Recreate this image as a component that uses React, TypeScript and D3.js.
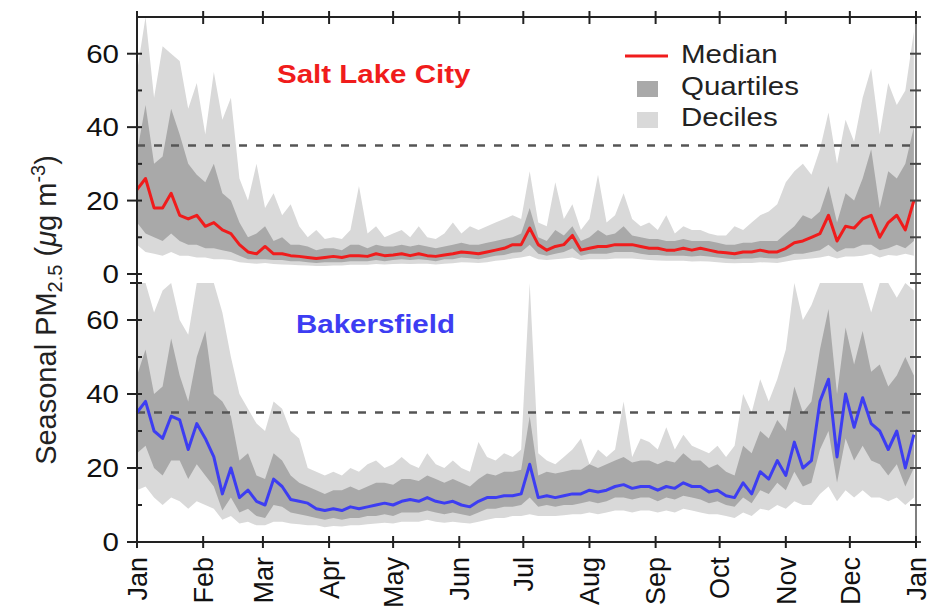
import React from 'react';
import * as d3 from 'd3';

// day-of-year grid (every 4 days)
const days: number[] = d3.range(0, 365, 4);

const monthDays = [0, 31, 59, 90, 120, 151, 181, 212, 243, 273, 304, 334, 365];
const monthLabels = ['Jan', 'Feb', 'Mar', 'Apr', 'May', 'Jun', 'Jul', 'Aug', 'Sep', 'Oct', 'Nov', 'Dec', 'Jan'];
const majorTicks = [0, 20, 40, 60];
const minorTicks = [10, 30, 50];
const standard = 35;

// Salt Lake City
const slcMed = [
  23, 26, 18, 18, 22, 16, 15, 16, 13, 14,
  12, 11, 8, 6, 5.5, 7.5, 5.5, 5.5, 5, 4.8,
  4.5, 4.2, 4.5, 4.8, 4.5, 5, 5, 4.8, 5.5, 5,
  5.2, 5.5, 5, 5.5, 5, 4.8, 5.2, 5.5, 6, 5.8,
  5.5, 6, 6.5, 7, 8, 8, 12.5, 8, 6.5, 7.5,
  8, 10.5, 6.5, 7, 7.5, 7.5, 8, 8, 8, 7.5,
  7, 7, 6.5, 6.5, 7, 6.5, 7, 6.5, 6, 5.8,
  5.5, 6, 6, 6.5, 6, 6, 7, 8.5, 9, 10,
  11, 16, 9, 13, 12.5, 15, 16, 10, 14, 16,
  12, 20,
];
const slcQ25 = [
  14, 11, 10, 9, 11, 9, 8, 8, 7, 7,
  6.5, 6, 5, 4, 4, 4, 3.8, 3.8, 3.5, 3.5,
  3.2, 3, 3.2, 3.2, 3.2, 3.5, 3.5, 3.5, 3.8, 3.5,
  3.8, 4, 3.8, 4, 3.8, 3.5, 4, 4, 4.5, 4.3,
  4, 4.5, 5, 5.2, 5.8, 6, 8, 5.5, 5, 5.5,
  6, 7, 5, 5.5, 5.5, 5.5, 6, 6, 6, 5.5,
  5.2, 5.2, 5, 5, 5, 4.8, 5, 4.8, 4.5, 4.2,
  4, 4.2, 4.2, 4.5, 4.3, 4.2, 4.8, 5.5, 5.5, 6,
  6.5, 8, 6, 7, 7, 8, 8, 6.5, 7, 8,
  7, 9,
];
const slcQ75 = [
  33, 46, 30, 32, 45, 38, 30, 27, 25, 30,
  22, 20, 14, 10, 11, 13, 9, 10, 8, 8,
  7.5, 6.5, 7, 7, 6.5, 8, 8, 7, 8, 7.5,
  7.5, 8, 7.5, 8, 7.5, 7, 7.5, 8, 8.5, 8,
  8, 8.5, 9, 9.5, 10, 11, 18, 10, 9, 12,
  10.5, 13, 9, 10, 12, 10.5, 11, 13, 10.5, 10,
  9.5, 9.5, 9, 9, 9.5, 9, 9, 9, 8.5, 8,
  8, 8.5, 8.5, 9, 9, 9, 11, 13, 16, 15,
  17, 24, 14, 22, 20, 26, 34, 18, 28, 26,
  30, 40,
];
const slcD10 = [
  8, 6, 5.5, 5, 6, 5, 5, 4.5, 4.5, 4,
  4, 3.8, 3.2, 3, 2.8, 3, 2.7, 2.6, 2.5, 2.4,
  2.3, 2.2, 2.2, 2.3, 2.3, 2.5, 2.5, 2.5, 2.7, 2.6,
  2.7, 2.8, 2.7, 2.8, 2.8, 2.6, 2.8, 2.9, 3.2, 3.1,
  3, 3.2, 3.6, 3.8, 4.2, 4.5, 5, 4, 3.8, 4,
  4.2, 4.5, 3.8, 4, 4, 4, 4.2, 4.2, 4.2, 4,
  3.8, 3.7, 3.6, 3.6, 3.6, 3.4, 3.5, 3.4, 3.2, 3,
  2.9, 3, 3, 3.2, 3.1, 3, 3.4, 3.8, 4, 4.2,
  4.5, 5, 4.2, 4.8, 4.8, 5, 5.5, 4.5, 5.2, 5,
  5.5, 5,
];
const slcD90 = [
  55, 70, 48, 62, 60, 58, 45, 52, 38, 55,
  42, 48, 26, 20, 30, 18, 22, 16, 19, 13,
  10, 12, 9.5, 10, 9.5, 12, 24, 11, 13, 10,
  11, 12, 10, 13, 10, 9.5, 11, 14, 11, 13,
  12, 13, 14, 15, 16, 15, 28, 14, 13, 25,
  15, 19, 12, 15, 27, 14, 16, 22, 15, 13,
  14, 12, 16, 11, 13, 12, 12, 11, 10.5, 10.5,
  13, 12, 14, 16, 17, 19, 25, 28, 30, 27,
  34, 44, 30, 42, 36, 48, 56, 38, 52, 46,
  50, 66,
];

// Bakersfield
const bakMed = [
  35, 38, 30, 28, 34, 33, 25, 32, 28, 23,
  13, 20, 12, 14, 11, 10, 17, 15, 11.5, 11,
  10.5, 9, 8.5, 9, 8.5, 9.5, 9, 9.5, 10, 10.5,
  10, 11, 11.5, 11, 12, 11, 10.5, 11, 10, 9.5,
  11, 12, 12, 12.5, 12.5, 13, 21, 12, 12.5, 12,
  12.5, 13, 13, 14, 13.5, 14, 15, 15.5, 14.5, 15,
  15, 14, 15, 14.5, 16, 15, 15, 13.5, 14, 12.5,
  12, 16, 13, 19, 17, 22, 18, 27, 20, 22,
  38, 44, 23, 40, 31, 39, 32, 30, 25, 30,
  20, 29,
];
const bakQ25 = [
  24, 26, 20, 18, 22, 22, 17, 21, 18, 15,
  8.5, 12, 8, 9, 7, 6.5, 10, 9.5, 8, 7.5,
  7, 6.5, 6, 6.5, 6, 6.5, 6.5, 7, 7, 7.5,
  7, 8, 8, 8, 8.5, 8, 7.5, 8, 7.5, 7,
  8, 9, 9, 9.5, 9.5, 10, 12, 9.5, 10, 9.5,
  10, 10, 10.5, 11, 10.5, 11, 12, 12, 11.5, 12,
  12, 11, 12, 11.5, 12.5, 12, 11.5, 10.5, 11, 10,
  9.5, 12, 10.5, 14, 13, 16, 14, 19, 15, 16,
  25, 30, 16, 28, 22, 26, 22, 21, 18, 21,
  15, 20,
];
const bakQ75 = [
  45, 52, 40, 42, 55, 45, 38, 50, 57, 40,
  38, 34, 22, 24, 18, 17, 24, 22, 18, 16,
  15, 14, 13, 14, 14, 15, 14, 15, 16, 16,
  15.5, 17, 17, 16.5, 18, 17, 16, 17, 16, 15,
  17, 18.5, 18, 19, 19, 19.5, 34, 18, 19, 18.5,
  19, 19.5, 19.5, 21, 20, 21, 22, 23, 21.5, 22,
  22, 21, 22, 21.5, 24, 22, 22, 20, 21, 19,
  18, 26, 24, 30, 28, 33, 30, 42, 35, 38,
  52, 63, 40, 58, 48, 57, 46, 48, 42, 45,
  50, 45,
];
const bakD10 = [
  14, 15, 12, 10, 12, 11, 9, 11, 10, 9,
  6, 7, 5, 5.5, 4.5, 4.5, 5.5, 5.5, 5, 4.8,
  4.5, 4.5, 4, 4.3, 4.2, 4.5, 4.5, 4.8, 5, 5.2,
  5, 5.5, 5.5, 5.5, 6, 5.5, 5.2, 5.5, 5.2, 5,
  5.5, 6, 6.5, 6.5, 7, 7, 7.5, 7, 7, 7,
  7.2, 7.5, 7.5, 8, 7.5, 8, 8.5, 8.5, 8, 8.5,
  8.5, 8, 8.5, 8, 9, 8.5, 8, 7.5, 7.5, 7,
  6.5, 8, 7, 9, 8.5, 10, 9, 11, 10, 10,
  13, 15, 11, 14, 12, 14, 12, 12, 11, 12,
  10, 12,
];
const bakD90 = [
  70, 70, 62, 68, 70, 60, 56, 70, 70, 70,
  62, 50, 40, 36, 32, 30, 38, 36, 30, 28,
  20, 19, 18, 19, 18, 20, 19, 21, 22, 20,
  21, 23, 21, 20, 24, 21, 20, 22, 20, 19,
  27, 23, 22, 24, 23, 25, 70, 24, 22, 21,
  23, 25, 28, 21, 25, 23, 25, 38, 23, 28,
  27, 25, 31, 25, 29, 26, 25, 24, 26, 23,
  26, 40, 35, 44, 38, 44, 52, 70, 60, 64,
  70, 70, 70, 70, 70, 70, 62, 70, 70, 66,
  70, 68,
];

const W = 943;
const H = 615;
const X0 = 137;
const X1 = 916;
const x = d3.scaleLinear().domain([0, 365]).range([X0, X1]);
const yTop = d3.scaleLinear().domain([0, 70]).range([274, 17]);
const yBot = d3.scaleLinear().domain([0, 70]).range([542, 283]);

const FONT = '"Liberation Sans", Arial, Helvetica, sans-serif';
const SX = 1.18;
const AXIS = '#222';
const DEC = '#d9d9d9';
const QUA = '#a9a9a9';
const RED = '#f01c1c';
const BLUE = '#3d3df2';

type PanelProps = {
  y: d3.ScaleLinear<number, number>;
  med: number[]; q25: number[]; q75: number[]; d10: number[]; d90: number[];
  color: string; title: string; titleX: number; titleY: number;
};

function Panel({ y, med, q25, q75, d10, d90, color, title, titleX, titleY }: PanelProps) {
  const band = (lo: number[], hi: number[]) =>
    d3.area<number>()
      .x((d) => x(d))
      .y0((_, i) => y(lo[i]))
      .y1((_, i) => y(Math.min(70, hi[i])))(days) || '';
  const line = d3.line<number>()
    .x((d) => x(d))
    .y((_, i) => y(med[i]))(days) || '';
  return (
    <g>
      <path d={band(d10, d90)} fill={DEC} stroke="none" />
      <path d={band(q25, q75)} fill={QUA} stroke="none" />
      <line x1={X0} x2={X1} y1={y(standard)} y2={y(standard)} stroke="#555" strokeWidth={2.5} strokeDasharray="8,9" />
      <path d={line} fill="none" stroke={color} strokeWidth={3} strokeLinejoin="round" />
      {majorTicks.map((t) => (
        <g key={'M' + t}>
          <line x1={X0 - 10} x2={X0 + 5} y1={y(t)} y2={y(t)} stroke={AXIS} strokeWidth={2} />
          <text transform={`translate(119,${y(t)}) scale(${SX},1)`} dy="0.36em" textAnchor="end"
            fontFamily={FONT} fontSize={25} fill="#111">{t}</text>
        </g>
      ))}
      {minorTicks.map((t) => (
        <line key={'m' + t} x1={X0} x2={X0 + 5} y1={y(t)} y2={y(t)} stroke={AXIS} strokeWidth={2} />
      ))}
      {[...majorTicks, ...minorTicks, 70].map((t) => (
        <line key={'r' + t} x1={X1 - 6} x2={X1 + 5} y1={y(t)} y2={y(t)} stroke="#444" strokeWidth={2} />
      ))}
      <text transform={`translate(${titleX},${titleY}) scale(${SX},1)`} fontFamily={FONT} fontWeight="bold"
        fontSize={25} fill={color}>{title}</text>
    </g>
  );
}

export default function App() {
  return (
    <svg width={W} height={H} viewBox={`0 0 ${W} ${H}`}
      style={{ position: 'absolute', left: 0, top: 0, background: '#fff' }}>
      <rect x={0} y={0} width={W} height={H} fill="#fff" />
      <line x1={X1} x2={X1} y1={17} y2={542} stroke="#555" strokeWidth={1.5} />
      <Panel y={yTop} med={slcMed} q25={slcQ25} q75={slcQ75} d10={slcD10} d90={slcD90}
        color={RED} title="Salt Lake City" titleX={277} titleY={83} />
      <Panel y={yBot} med={bakMed} q25={bakQ25} q75={bakQ75} d10={bakD10} d90={bakD90}
        color={BLUE} title="Bakersfield" titleX={296} titleY={333} />
      {/* left axis */}
      <line x1={X0} x2={X0} y1={17} y2={542} stroke={AXIS} strokeWidth={2} />
      <line x1={X0 - 7} x2={X0 + 5} y1={yBot(70)} y2={yBot(70)} stroke={AXIS} strokeWidth={2} />
      {/* top axis */}
      <line x1={X0} x2={X1} y1={17} y2={17} stroke={AXIS} strokeWidth={2} />
      {monthDays.map((d, i) => (
        <line key={'tt' + i} x1={x(d)} x2={x(d)} y1={11} y2={24} stroke={AXIS} strokeWidth={2} />
      ))}
      {/* bottom axis */}
      <line x1={X0} x2={X1} y1={542} y2={542} stroke={AXIS} strokeWidth={2} />
      {monthDays.map((d, i) => (
        <g key={'bt' + i}>
          <line x1={x(d)} x2={x(d)} y1={536} y2={548} stroke={AXIS} strokeWidth={2} />
          <text transform={`translate(${x(d)},557) rotate(-90)`} dy="0.36em" textAnchor="end"
            fontFamily={FONT} fontSize={27} fill="#111">{monthLabels[i]}</text>
        </g>
      ))}
      {/* y label */}
      <text transform="translate(56,310) rotate(-90)" textAnchor="middle" fontFamily={FONT} fontSize={29} fill="#222">
        Seasonal PM<tspan dy={6} fontSize={20}>2.5</tspan><tspan dy={-6}> (</tspan><tspan fontStyle="italic">μ</tspan>g m<tspan dy={-11} fontSize={20}>-3</tspan><tspan dy={11}>)</tspan>
      </text>
      {/* legend */}
      <line x1={625} x2={668} y1={56} y2={56} stroke={RED} strokeWidth={3} />
      <text transform={`translate(681,54) scale(${SX},1)`} dy="0.36em" fontFamily={FONT} fontSize={25} fill="#222">Median</text>
      <rect x={637} y={81} width={21} height={16} fill={QUA} />
      <text transform={`translate(681,86) scale(${SX},1)`} dy="0.36em" fontFamily={FONT} fontSize={25} fill="#222">Quartiles</text>
      <rect x={637} y={112} width={21} height={16} fill={DEC} />
      <text transform={`translate(681,117) scale(${SX},1)`} dy="0.36em" fontFamily={FONT} fontSize={25} fill="#222">Deciles</text>
    </svg>
  );
}
